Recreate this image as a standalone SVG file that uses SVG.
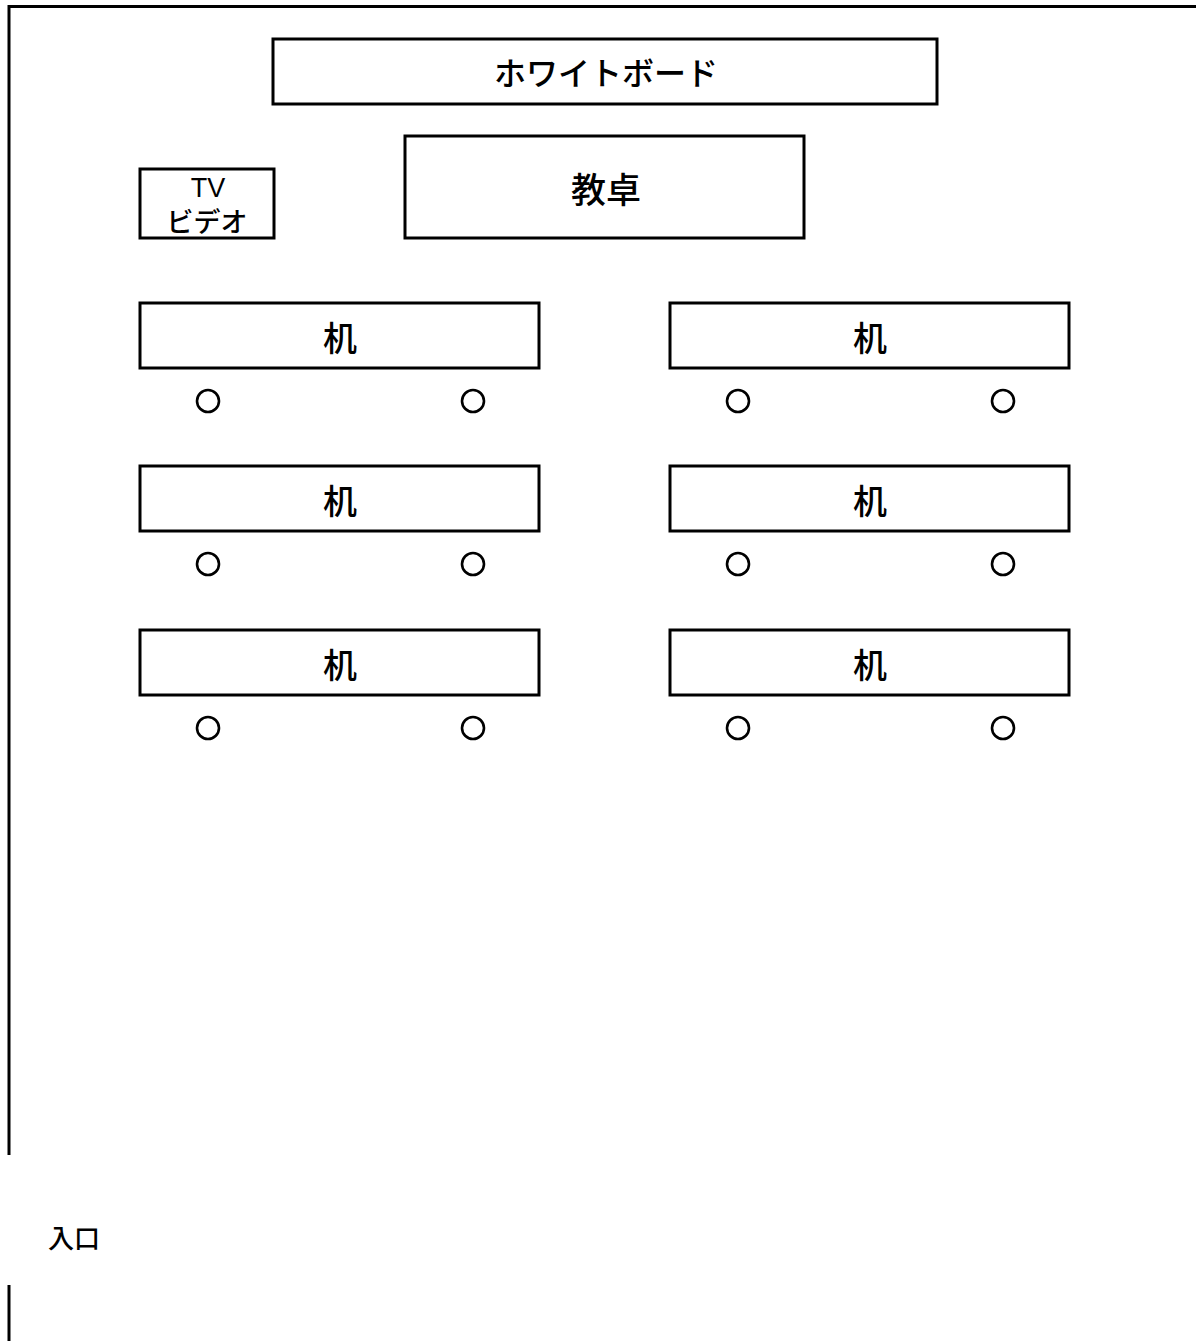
<svg xmlns="http://www.w3.org/2000/svg" width="1196" height="1341" viewBox="0 0 1196 1341">
<style>
.box{fill:#fff;stroke:#000;stroke-width:3}
.wall{fill:none;stroke:#000;stroke-width:3}
.seat{fill:none;stroke:#000;stroke-width:2.6}
text{font-family:"Liberation Sans","Noto Sans CJK JP",sans-serif;fill:#000;text-anchor:middle;dominant-baseline:central}
.jp{font-family:"Noto Sans CJK JP","Liberation Sans",sans-serif;font-weight:500}
</style>
<g id="walls">
<polyline class="wall" points="9,1155 9,6.5 1196,6.5"/>
<line class="wall" x1="9" y1="1285" x2="9" y2="1341"/>
</g>
<g id="connectors"></g>
<g id="whiteboard"><rect class="box" x="273" y="39" width="664" height="65"/><text class="jp" x="606" y="71" font-size="32">ホワイトボード</text></g>
<g id="tv"><rect class="box" x="140" y="169" width="134" height="69"/><text x="208" y="188" font-size="27">TV</text><text class="jp" x="207" y="220" font-size="27">ビデオ</text></g>
<g id="kyotaku"><rect class="box" x="405" y="136" width="399" height="102"/><text class="jp" x="606" y="187" font-size="35">教卓</text></g>
<g id="desk1"><rect class="box" x="140" y="303" width="399" height="65"/><text class="jp" x="340" y="336" font-size="34">机</text></g>
<g id="desk2"><rect class="box" x="670" y="303" width="399" height="65"/><text class="jp" x="870" y="336" font-size="34">机</text></g>
<g id="desk3"><rect class="box" x="140" y="466" width="399" height="65"/><text class="jp" x="340" y="499" font-size="34">机</text></g>
<g id="desk4"><rect class="box" x="670" y="466" width="399" height="65"/><text class="jp" x="870" y="499" font-size="34">机</text></g>
<g id="desk5"><rect class="box" x="140" y="630" width="399" height="65"/><text class="jp" x="340" y="663" font-size="34">机</text></g>
<g id="desk6"><rect class="box" x="670" y="630" width="399" height="65"/><text class="jp" x="870" y="663" font-size="34">机</text></g>
<g id="seats">
<circle class="seat" cx="208" cy="401" r="11"/><circle class="seat" cx="473" cy="401" r="11"/><circle class="seat" cx="738" cy="401" r="11"/><circle class="seat" cx="1003" cy="401" r="11"/>
<circle class="seat" cx="208" cy="564" r="11"/><circle class="seat" cx="473" cy="564" r="11"/><circle class="seat" cx="738" cy="564" r="11"/><circle class="seat" cx="1003" cy="564" r="11"/>
<circle class="seat" cx="208" cy="728" r="11"/><circle class="seat" cx="473" cy="728" r="11"/><circle class="seat" cx="738" cy="728" r="11"/><circle class="seat" cx="1003" cy="728" r="11"/>
</g>
<g id="entrance"><text class="jp" x="74" y="1236" font-size="26">入口</text></g>
</svg>
